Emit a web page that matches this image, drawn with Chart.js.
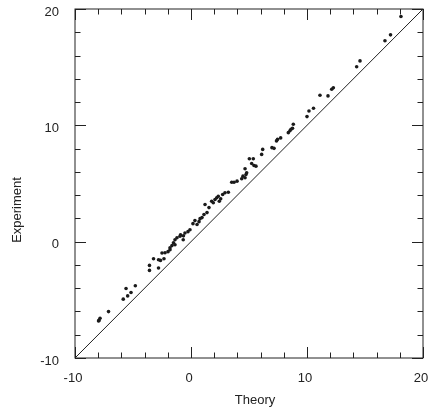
<!DOCTYPE html>
<html>
<head>
<meta charset="utf-8">
<script src="https://cdn.jsdelivr.net/npm/chart.js@4"></script>
<style>
  html, body { margin: 0; padding: 0; background: #fff; }
  #wrap { width: 431px; height: 410px; }
</style>
</head>
<body>
<div id="wrap"><canvas id="scatterChart" width="431" height="410"></canvas></div>
<script>
// measured values (theory vs experiment)
const theory = [
    -7.93, -7.84, -7.97, -7.11, -5.84, -5.60, -5.46, -5.17, -4.80, -3.58,
    -3.58, -3.23, -2.80, -2.80, -2.63, -2.33, -2.50, -2.24, -1.98, -1.81,
    -1.64, -1.51, -1.38, -1.21, -0.95, -0.67, -0.52, -0.26, -0.09, 0.17,
    0.34, 0.52, 0.69, 0.78, 0.95, 1.12, 1.21, 1.38, 1.55, 1.78,
    1.92, 2.07, 2.22, 2.35, 2.44, 2.56, 2.73, 2.93, 3.22, 3.51,
    3.71, 3.97, 4.37, 4.48, 4.66, 4.74, 4.80, 4.66, 5.03, 5.23,
    5.37, 5.43, 5.60, 6.09, 6.18, 6.98, 7.16, 7.37, 7.46, 7.73,
    8.39, 8.53, 8.62, 8.75, 8.82, 10.00, 10.17, 10.56, 11.12, 11.81,
    12.13, 12.27, 14.28, 14.57, 16.72, 17.20, 18.10, -1.81, -1.38, -0.90,
    -0.65
];
const experiment = [
    -6.77, -6.58, -6.81, -6.01, -4.94, -4.03, -4.66, -4.37, -3.79, -2.47,
    -2.04, -1.47, -2.27, -1.55, -1.61, -1.47, -0.97, -0.95, -0.86, -0.69,
    -0.34, -0.09, 0.17, 0.34, 0.46, 0.17, 0.75, 0.86, 1.03, 1.55,
    1.81, 1.47, 1.72, 1.98, 2.07, 2.33, 3.19, 2.50, 2.93, 3.47,
    3.34, 3.62, 3.77, 3.91, 3.47, 3.68, 4.05, 4.20, 4.25, 5.11,
    5.11, 5.20, 5.41, 5.63, 5.49, 5.78, 5.92, 6.27, 7.13, 6.72,
    7.13, 6.55, 6.49, 7.50, 7.93, 8.08, 8.02, 8.66, 8.79, 8.92,
    9.37, 9.53, 9.66, 9.74, 10.09, 10.75, 11.23, 11.47, 12.59, 12.53,
    13.10, 13.23, 15.03, 15.54, 17.27, 17.78, 19.35, -0.53, -0.26, 0.60,
    0.50
];
// reference line y = x
const lineX = [-10, 20];
const lineY = [-10, 20];
const tickValues = [-10, 0, 10, 20];

const points = theory.map((t, i) => ({ x: t, y: experiment[i] }));
const diagonal = lineX.map((t, i) => ({ x: t, y: lineY[i] }));

// frame, inward ticks and axis titles
const frameTicks = {
    id: 'frameTicks',
    afterDraw(chart) {
        const { ctx, chartArea: a, scales: { x, y } } = chart;
        ctx.save();
        ctx.strokeStyle = '#222';
        ctx.lineWidth = 1;
        ctx.strokeRect(a.left, a.top, a.right - a.left, a.bottom - a.top);
        ctx.beginPath();
        for (let v = -10; v <= 20; v += 2) {
            const len = v % 10 === 0 ? 11 : 5.5;
            const px = Math.round(x.getPixelForValue(v)) + 0.5;
            const py = Math.round(y.getPixelForValue(v)) + 0.5;
            ctx.moveTo(px, a.bottom); ctx.lineTo(px, a.bottom - len);
            ctx.moveTo(px, a.top); ctx.lineTo(px, a.top + len);
            ctx.moveTo(a.left, py); ctx.lineTo(a.left + len, py);
            ctx.moveTo(a.right, py); ctx.lineTo(a.right - len, py);
        }
        ctx.stroke();

        ctx.fillStyle = '#222';
        ctx.font = '13px "Liberation Sans", Arial, sans-serif';
        ctx.textAlign = 'center';
        ctx.textBaseline = 'middle';
        ctx.fillText('Theory', 255, 400);
        ctx.translate(17, 210);
        ctx.rotate(-Math.PI / 2);
        ctx.fillText('Experiment', 0, 0);
        ctx.restore();
    }
};

const tickFont = { family: '"Liberation Sans", Arial, sans-serif', size: 13 };

const chart = new Chart(document.getElementById('scatterChart'), {
    type: 'scatter',
    data: {
        datasets: [{
            label: 'Data',
            data: points,
            backgroundColor: '#1a1a1a',
            borderColor: '#1a1a1a',
            pointRadius: 1.8,
            pointBorderWidth: 0
        }, {
            label: 'y = x',
            type: 'line',
            data: diagonal,
            borderColor: '#222',
            borderWidth: 1,
            pointRadius: 0,
            fill: false
        }]
    },
    plugins: [frameTicks],
    options: {
        responsive: false,
        animation: false,
        devicePixelRatio: 1,
        layout: { padding: { top: 9, right: 8, left: 0, bottom: 0 } },
        plugins: {
            legend: { display: false },
            tooltip: { enabled: false }
        },
        scales: {
            x: {
                type: 'linear',
                min: -10,
                max: 20,
                afterFit: (s) => { s.height = 52; s.paddingLeft = 0; s.paddingRight = 0; },
                afterBuildTicks: (s) => { s.ticks = tickValues.map(v => ({ value: v })); },
                grid: { display: false, drawTicks: false },
                border: { display: false },
                ticks: { color: '#222', font: tickFont, padding: 13, maxRotation: 0, labelOffset: -2 }
            },
            y: {
                type: 'linear',
                min: -10,
                max: 20,
                afterFit: (s) => { s.width = 75; s.paddingTop = 0; s.paddingBottom = 0; },
                afterBuildTicks: (s) => { s.ticks = tickValues.map(v => ({ value: v })); },
                grid: { display: false, drawTicks: false },
                border: { display: false },
                ticks: { color: '#222', font: tickFont, padding: 16, labelOffset: 3 }
            }
        }
    }
});
</script>
</body>
</html>
